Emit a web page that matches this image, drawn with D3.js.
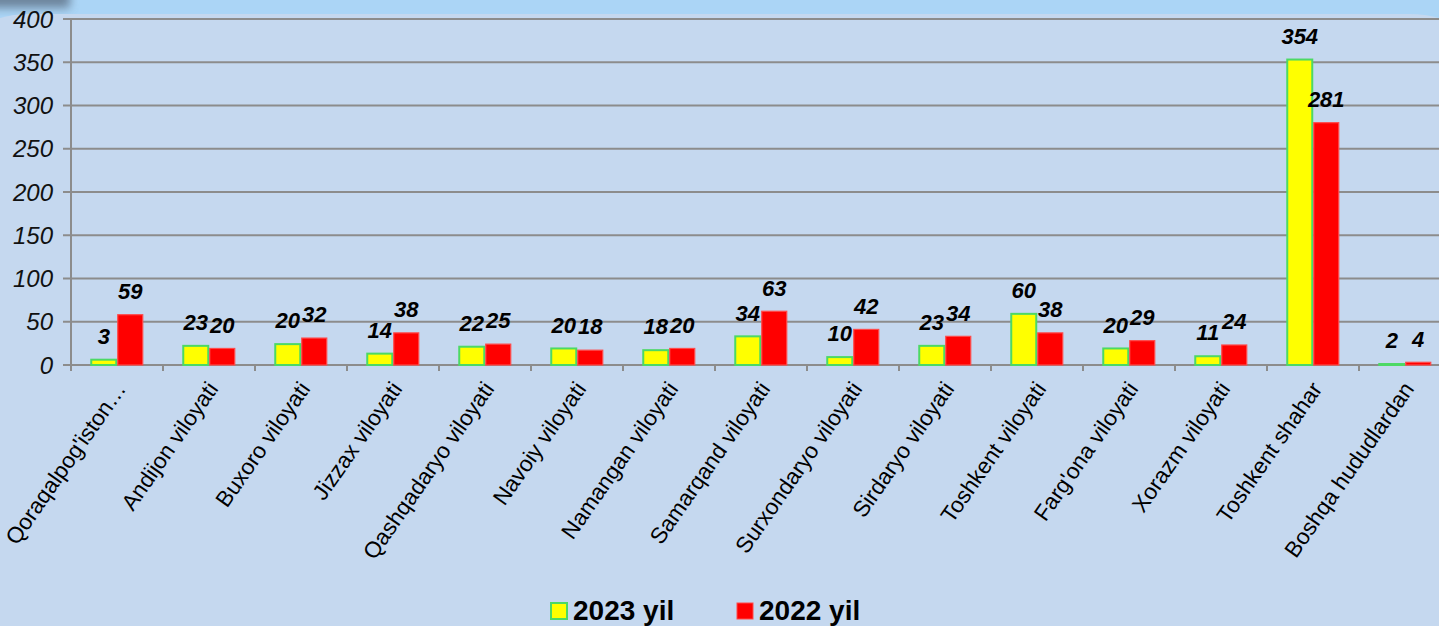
<!DOCTYPE html>
<html><head><meta charset="utf-8">
<script src="https://cdn.jsdelivr.net/npm/d3@7"></script>
<style>html,body{margin:0;padding:0;overflow:hidden;background:#c5d8ef}</style>
</head><body>
<svg id="c" width="1439" height="626"></svg>
<script>
const categories = ["Qoraqalpog'iston…","Andijon viloyati","Buxoro viloyati","Jizzax viloyati","Qashqadaryo viloyati","Navoiy viloyati","Namangan viloyati","Samarqand viloyati","Surxondaryo viloyati","Sirdaryo viloyati","Toshkent viloyati","Farg'ona viloyati","Xorazm viloyati","Toshkent shahar","Boshqa hududlardan"];
const values2023 = [7, 23, 25, 14, 22, 20, 18, 34, 10, 23, 60, 20, 11, 354, 2];
const values2022 = [59, 20, 32, 38, 25, 18, 20, 63, 42, 34, 38, 29, 24, 281, 4];
const labels2023 = ["3","23","20","14","22","20","18","34","10","23","60","20","11","354","2"];
const labels2022 = ["59","20","32","38","25","18","20","63","42","34","38","29","24","281","4"];
const seriesNames = ["2023 yil","2022 yil"];
const yTicks = [0,50,100,150,200,250,300,350,400];

const FONT = "Arial, 'Liberation Sans', sans-serif";
const svg = d3.select("#c");
const W = 1439, H = 626;

// background
const defs = svg.append("defs");
const blur = defs.append("filter").attr("id","blur").attr("x","-50%").attr("y","-50%").attr("width","200%").attr("height","200%");
blur.append("feGaussianBlur").attr("stdDeviation",5);
const glow = defs.append("radialGradient").attr("id","glow").attr("cx","0%").attr("cy","100%").attr("r","100%");
glow.append("stop").attr("offset","0%").attr("stop-color","#ffffff");
glow.append("stop").attr("offset","100%").attr("stop-color","#ffffff").attr("stop-opacity",0);

svg.append("rect").attr("width",W).attr("height",H).attr("fill","#abd5f6");
svg.append("rect").attr("x",-30).attr("y",-20).attr("width",100).attr("height",28).attr("fill","#5d7186").attr("filter","url(#blur)").attr("opacity",0.8);
svg.append("rect").attr("x",-20).attr("y",540).attr("width",80).attr("height",120).attr("fill","url(#glow)").attr("opacity",0.9);
svg.append("rect").attr("x",-60).attr("y",14).attr("width",W+120).attr("height",H+10).attr("rx",90).attr("ry",70).attr("fill","#c5d8ef");

const x0 = d3.scaleBand().domain(categories).range([71, 71 + 15*92]).paddingInner(0).paddingOuter(0);
const x1 = d3.scaleBand().domain(seriesNames).range([0, x0.bandwidth()]).paddingOuter(0.736).paddingInner(0);
const y = d3.scaleLinear().domain([0,400]).range([365, 19]);

// gridlines
svg.append("g").selectAll("line").data(yTicks).join("line")
  .attr("x1",63).attr("x2",W+20).attr("y1",d=>y(d)).attr("y2",d=>y(d))
  .attr("stroke","#8c8c8c").attr("stroke-width",2);

// y axis line
svg.append("line").attr("x1",71).attr("x2",71).attr("y1",y(400)).attr("y2",371).attr("stroke","#8c8c8c").attr("stroke-width",2);
// x ticks
svg.append("g").selectAll("line").data(d3.range(16)).join("line")
  .attr("x1",i=>71+i*92).attr("x2",i=>71+i*92).attr("y1",365).attr("y2",371)
  .attr("stroke","#8c8c8c").attr("stroke-width",2);

// y labels
svg.append("g").selectAll("text").data(yTicks).join("text")
  .attr("x",53).attr("y",d=>y(d)).attr("dy","0.36em")
  .attr("text-anchor","end").attr("font-family",FONT).attr("font-style","italic")
  .attr("font-size",24).attr("fill","#111").text(d=>d);

// bars
const data = categories.map((c,i)=>({c, v:[values2023[i], values2022[i]], l:[labels2023[i], labels2022[i]]}));
const fills = ["#ffff00","#ff0000"], strokes = ["#4cd964","#ff4a4a"];
const g = svg.append("g").selectAll("g").data(data).join("g").attr("transform",d=>`translate(${x0(d.c)},0)`);
g.selectAll("rect").data(d=>d.v.map((v,k)=>({v,k}))).join("rect")
  .attr("x",d=>x1(seriesNames[d.k])+0.75).attr("width",x1.bandwidth()-1.5)
  .attr("y",d=>y(d.v)+0.75).attr("height",d=>Math.max(0.5,y(0)-y(d.v)-0.75))
  .attr("fill",d=>fills[d.k]).attr("stroke",d=>strokes[d.k]).attr("stroke-width",d=>d.k===0?2:1.2);
g.selectAll("text").data(d=>d.v.map((v,k)=>({v,k,l:d.l[k]}))).join("text")
  .attr("x",d=>x1(seriesNames[d.k])+x1.bandwidth()/2).attr("y",d=>y(d.v)-15)
  .attr("text-anchor","middle").attr("font-family",FONT).attr("font-weight","bold").attr("font-style","italic")
  .attr("font-size",22).attr("fill","#000").text(d=>d.l);

// category labels
svg.append("g").selectAll("text").data(categories).join("text")
  .attr("transform",d=>`translate(${x0(d)+x0.bandwidth()/2+10},389) rotate(-55)`)
  .attr("text-anchor","end").attr("font-family",FONT).attr("font-size",22.5).attr("fill","#000").text(d=>d);

// legend
const leg = svg.append("g");
const legX = [551, 737];
seriesNames.forEach((s,k)=>{
  leg.append("rect").attr("x",legX[k]).attr("y",603).attr("width",16).attr("height",16)
    .attr("fill",fills[k]).attr("stroke",strokes[k]).attr("stroke-width",k===0?2:1);
  leg.append("text").attr("x",legX[k]+22).attr("y",620).attr("font-family",FONT).attr("font-weight","bold")
    .attr("font-size",28).attr("fill","#000").text(s);
});
</script>
</body></html>
